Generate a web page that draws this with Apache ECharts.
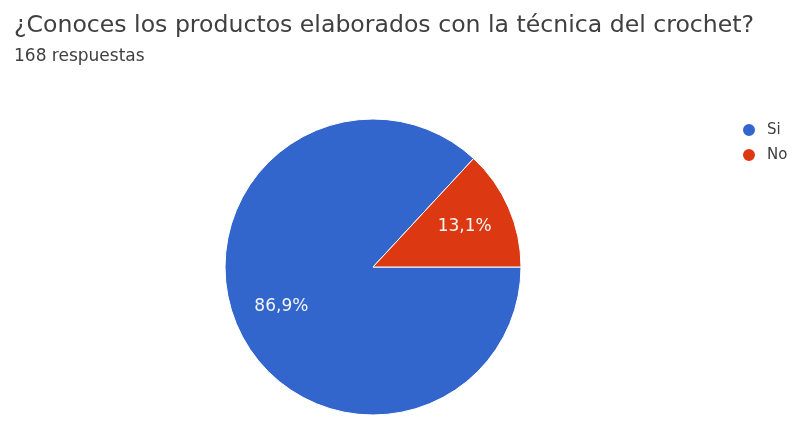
<!DOCTYPE html>
<html>
<head>
<meta charset="utf-8">
<script src="https://cdn.jsdelivr.net/npm/echarts@6/dist/echarts.min.js"></script>
<style>
  html, body { margin: 0; padding: 0; background: #fff; }
  #chart { width: 793px; height: 432px; }
</style>
</head>
<body>
<div id="chart"></div>
<script>
// Survey answers: "¿Conoces los productos elaborados con la técnica del crochet?"
const questionTitle = '¿Conoces los productos elaborados con la técnica del crochet?';
const responseCount = '168 respuestas';
const answers = ['Si', 'No'];
const answerCounts = [146, 22];
const answerColors = ['#3366CC', '#DC3912'];

const FONT = '"DejaVu Sans", Roboto, sans-serif';

const sliceData = answers.map((name, i) => ({
  name,
  value: answerCounts[i],
  itemStyle: { color: answerColors[i] }
}));

const fmtPercent = p => p.percent.toFixed(1).replace('.', ',') + '%';

const chart = echarts.init(document.getElementById('chart'), null, { renderer: 'canvas' });
chart.setOption({
  animation: false,
  backgroundColor: '#ffffff',
  title: {
    text: questionTitle,
    subtext: responseCount,
    left: 9,
    top: 9,
    itemGap: 10,
    textStyle: {
      fontFamily: FONT,
      fontWeight: 'normal',
      fontSize: 23.6,
      color: '#404040'
    },
    subtextStyle: {
      fontFamily: FONT,
      fontSize: 17,
      color: '#404040'
    }
  },
  legend: {
    orient: 'vertical',
    left: 736,
    top: 117,
    itemGap: 9,
    itemWidth: 14,
    itemHeight: 14,
    icon: 'circle',
    data: answers,
    textStyle: {
      fontFamily: FONT,
      fontSize: 15,
      color: '#404040',
      padding: [0, 0, 0, 6]
    }
  },
  series: [
    {
      // slices
      type: 'pie',
      center: [373, 267],
      radius: [0, 148],
      startAngle: 0,
      clockwise: true,
      data: sliceData,
      label: { show: false },
      labelLine: { show: false },
      itemStyle: { borderColor: '#ffffff', borderWidth: 1 },
      emphasis: { disabled: true }
    },
    {
      // transparent ring carrying the percentage labels further out
      type: 'pie',
      center: [373, 267],
      radius: [46, 148],
      startAngle: 0,
      clockwise: true,
      percentPrecision: 1,
      silent: true,
      data: answers.map((name, i) => ({ name, value: answerCounts[i] })),
      itemStyle: { color: 'rgba(0,0,0,0)' },
      label: {
        show: true,
        position: 'inside',
        formatter: fmtPercent,
        fontFamily: FONT,
        fontSize: 17,
        color: '#f4f4f4'
      },
      labelLine: { show: false },
      emphasis: { disabled: true }
    }
  ]
});
</script>
</body>
</html>
